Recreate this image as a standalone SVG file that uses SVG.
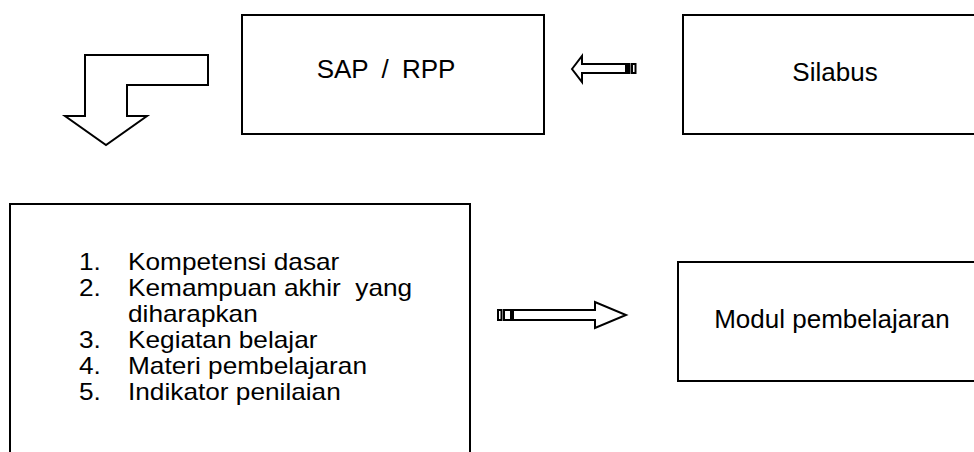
<svg xmlns="http://www.w3.org/2000/svg" width="974" height="452" viewBox="0 0 974 452">
  <style>
    .box { fill: #fff; stroke: #000; stroke-width: 2; }
    .arrow { fill: #fff; stroke: #000; stroke-width: 2; stroke-linejoin: miter; }
    .stripe { fill: #fff; stroke: #000; stroke-width: 2; }
    .label { font-family: "Liberation Sans", Arial, sans-serif; font-size: 26px; fill: #000; }
    .list { font-family: "Liberation Sans", Arial, sans-serif; font-size: 23px; fill: #000; }
  </style>
  <rect width="974" height="452" fill="#fff"/>

  <g id="sap-rpp">
    <rect class="box" x="242" y="15" width="302" height="119"/>
    <text class="label" x="386" y="78" text-anchor="middle" font-size="28" word-spacing="6">SAP / RPP</text>
  </g>

  <g id="silabus">
    <rect class="box" x="683" y="15" width="300" height="119"/>
    <text class="label" x="835" y="81" text-anchor="middle">Silabus</text>
  </g>

  <g id="komponen">
    <rect class="box" x="10" y="204" width="460" height="260"/>
    <!-- list set slightly condensed vertically: 23px glyphs widened by 1.14 -->
    <text class="list" transform="scale(1.14,1)">
      <tspan x="69.3" y="270">1.</tspan><tspan x="112.3" y="270">Kompetensi dasar</tspan>
      <tspan x="69.3" y="296">2.</tspan><tspan x="112.3" y="296">Kemampuan akhir&#160; yang</tspan>
      <tspan x="112.3" y="322">diharapkan</tspan>
      <tspan x="69.3" y="348">3.</tspan><tspan x="112.3" y="348">Kegiatan belajar</tspan>
      <tspan x="69.3" y="374">4.</tspan><tspan x="112.3" y="374">Materi pembelajaran</tspan>
      <tspan x="69.3" y="400">5.</tspan><tspan x="112.3" y="400">Indikator penilaian</tspan>
    </text>
  </g>

  <g id="modul">
    <rect class="box" x="678" y="262" width="310" height="119"/>
    <text class="label" x="832" y="328" text-anchor="middle">Modul pembelajaran</text>
  </g>

  <g id="connectors">
    <!-- bent arrow from SAP / RPP down to the component list -->
    <polygon class="arrow" points="85,55 208,55 208,85 127,85 127,116 147,116 106,145 65,116 85,116"/>
    <!-- striped arrow: Silabus to SAP / RPP -->
    <polygon class="arrow" points="572,69 582,56 582,64 626,64 626,73 582,73 582,82"/>
    <rect class="stripe" x="628" y="64" width="1.5" height="9"/>
    <rect class="stripe" x="632" y="64" width="3.5" height="9"/>
    <!-- striped arrow: component list to Modul pembelajaran -->
    <polygon class="arrow" points="513,310 595,310 595,302 626,315 595,328 595,320 513,320"/>
    <rect class="stripe" x="498" y="310" width="3.5" height="10"/>
    <rect class="stripe" x="504" y="310" width="7" height="10"/>
  </g>
</svg>
